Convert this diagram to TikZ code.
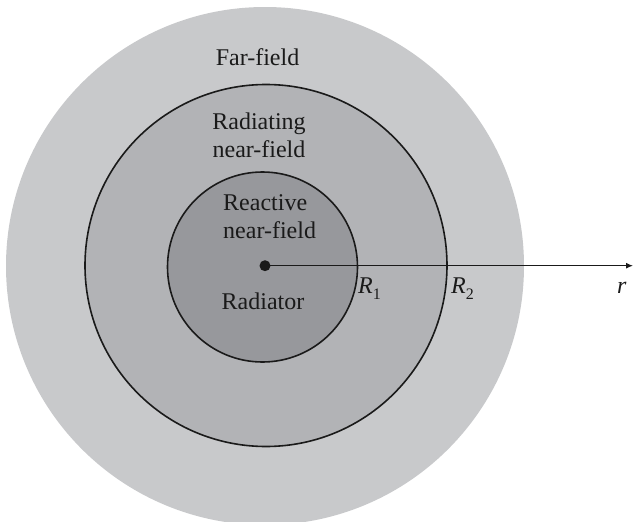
\documentclass[tikz,border=0pt]{standalone}
\usepackage{fontspec}
\setmainfont{Liberation Serif}
\usetikzlibrary{arrows.meta}
\definecolor{farzone}{HTML}{C8C9CB}
\definecolor{radzone}{HTML}{B2B3B6}
\definecolor{reazone}{HTML}{97989C}
\definecolor{ink}{HTML}{1A1A1A}
\newcommand{\subidx}[1]{\raisebox{-6pt}{\fontsize{16}{16}\selectfont #1}}

\begin{document}
\begin{tikzpicture}[x=1pt,y=-1pt,>={Latex[length=7pt,width=6pt]},
  zone/.style={circle,inner sep=0pt,draw=ink,line width=1.6pt},
  lbl/.style={font=\fontsize{24}{28}\selectfont,text=ink,inner sep=0pt}]
\useasboundingbox (0,0) rectangle (633,522);
\clip (0,0) rectangle (633,522);
% the three zones
\node[circle,inner sep=0pt,fill=farzone,minimum size=518pt] (far) at (265,266) {};
\node[zone,fill=radzone,minimum size=362pt] (rad) at (266,265.5) {};
\node[zone,fill=reazone,minimum size=190pt] (rea) at (262.5,267) {};
\node[circle,fill=ink,inner sep=0pt,minimum size=11pt] (src) at (265,265.7) {};
\coordinate (tip) at (633,265.7);
\draw[->,line width=1.2pt,ink] (src.center) -- (tip);
% labels (base = last line)
\node[lbl,anchor=base] (farlbl) at (257.5,65) {Far-field};
\node[lbl,anchor=base,align=center] (radlbl) at (259,157) {Radiating\\near-field};
\node[lbl,anchor=base west,align=left] (realbl) at (223,238) {Reactive\\near-field};
\node[lbl,anchor=base] (srclbl) at (263,309) {Radiator};
\node[lbl,anchor=base west] (r1) at (358,293) {\textit{R}\subidx{1}};
\node[lbl,anchor=base west] (r2) at (451,293) {\textit{R}\subidx{2}};
\node[lbl,anchor=base west] (rlbl) at (617,293) {\textit{r}};
\end{tikzpicture}
\end{document}
